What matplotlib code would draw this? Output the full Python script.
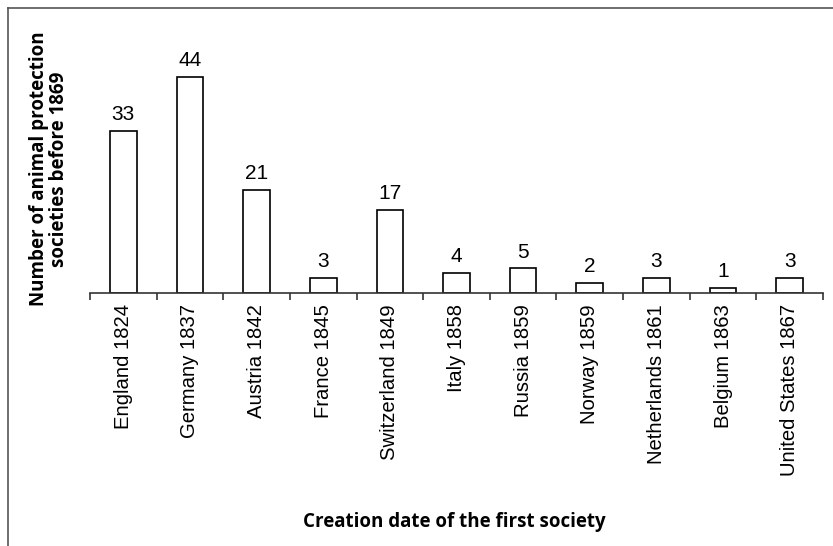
import numpy as np
import matplotlib
matplotlib.use('Agg')
import matplotlib.pyplot as plt
from matplotlib.lines import Line2D

# Data
countries = ['England 1824', 'Germany 1837', 'Austria 1842', 'France 1845',
             'Switzerland 1849', 'Italy 1858', 'Russia 1859', 'Norway 1859',
             'Netherlands 1861', 'Belgium 1863', 'United States 1867']
societies = [33, 44, 21, 3, 17, 4, 5, 2, 3, 1, 3]

fig = plt.figure(figsize=(8.33, 5.46), dpi=100)
ax = fig.add_axes([90 / 833, 1 - 293 / 546, 733 / 833, 248 / 546])

x = np.arange(len(countries))
bars = ax.bar(x, societies, width=0.4, color='white', edgecolor='black', linewidth=1.2)

for xi, v in zip(x, societies):
    ax.annotate(str(v), (xi, v), xytext=(0, 5), textcoords='offset points',
                ha='center', va='bottom', fontsize=15, family='Liberation Sans')

ax.set_xlim(-0.5, len(countries) - 0.5)
ax.set_ylim(0, 50.5)

ax.set_xticks(x)
ax.set_xticklabels(countries, rotation=90, fontsize=14.6, family='Liberation Sans')
ax.set_xticks(np.arange(-0.5, len(countries)), minor=True)
ax.tick_params(axis='x', which='major', length=0, pad=8)
ax.tick_params(axis='x', which='minor', length=5, width=1.2, color='#333333', direction='out')
ax.set_yticks([])

for s in ['top', 'right', 'left']:
    ax.spines[s].set_visible(False)
ax.spines['bottom'].set_color('#333333')
ax.spines['bottom'].set_linewidth(1.2)

fig.text(454 / 833, 1 - 522 / 546, 'Creation date of the first society',
         ha='center', va='center', fontsize=13.5, fontweight='bold', family='Open Sans')
fig.text(49 / 833, 1 - 169 / 546, 'Number of animal protection\nsocieties before 1869',
         ha='center', va='center', rotation=90, fontsize=13.5, fontweight='bold',
         family='Open Sans', linespacing=0.95)

# frame lines at the top and left of the figure
fig.add_artist(Line2D([8 / 833, 8 / 833], [0, 1 - 8 / 546], color='#555555', lw=1.2))
fig.add_artist(Line2D([8 / 833, 1], [1 - 8 / 546, 1 - 8 / 546], color='#555555', lw=1.2))

fig.savefig('out.png', dpi=100)
